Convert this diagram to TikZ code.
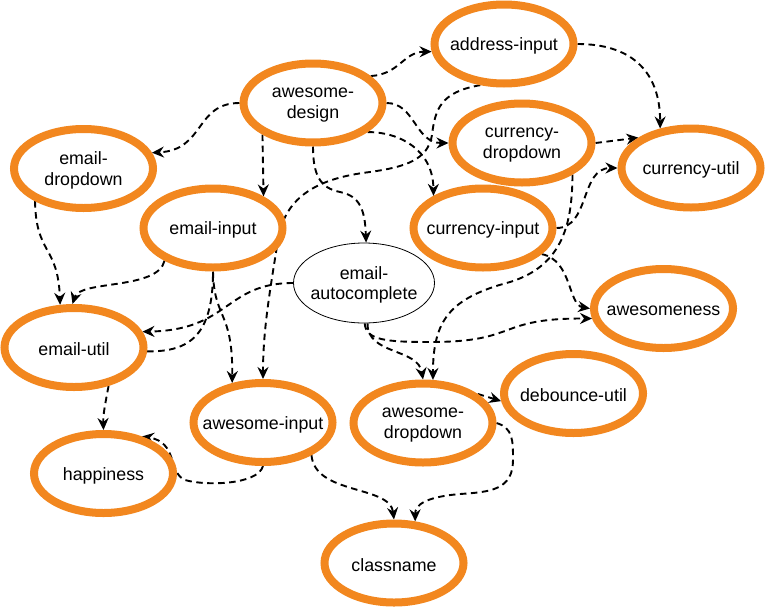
\documentclass[tikz,border=0pt]{standalone}
\usepackage{fontspec}
\setmainfont{Liberation Sans}
\usetikzlibrary{shapes.geometric,arrows.meta,backgrounds}
\definecolor{og}{RGB}{242,135,31}
\begin{document}
\begin{tikzpicture}[x=1pt,y=-1pt,
  onode/.style={ellipse, draw=og, line width=8pt, fill=white, minimum width=139pt, minimum height=79pt, inner sep=0pt},
  pnode/.style={ellipse, draw=black, line width=0.8pt, fill=white, minimum width=141pt, minimum height=80pt, inner sep=0pt},
  lbl/.style={align=center, font=\fontsize{17.8}{20.5}\selectfont, text=black, inner sep=0pt, yshift=-2pt},
  depline/.style={line width=1.9pt, dash pattern=on 6.5pt off 4.5pt},
  dep/.style={depline, -{Stealth[length=12pt,width=11pt,inset=4pt]}}]
\useasboundingbox (0,0) rectangle (767,608);

\node[onode, label={[lbl]center:{address-input}}] (ai) at (504,44) {};
\node[onode, label={[lbl]center:{awesome-\\design}}] (ad) at (313,103) {};
\node[onode, label={[lbl]center:{email-\\dropdown}}] (ed) at (83.5,168.5) {};
\node[onode, label={[lbl]center:{email-input}}] (ei) at (213,228) {};
\node[onode, label={[lbl]center:{currency-\\dropdown}}] (cd) at (522,143) {};
\node[onode, label={[lbl]center:{currency-util}}] (cu) at (691,168) {};
\node[onode, label={[lbl]center:{currency-input}}] (ci) at (483,228) {};
\node[pnode, label={[lbl]center:{email-\\autocomplete}}] (ea) at (364,283) {};
\node[onode, label={[lbl]center:{awesomeness}}] (an) at (663.5,308.5) {};
\node[onode, label={[lbl]center:{debounce-util}}] (du) at (573.5,393.5) {};
\node[onode, label={[lbl]center:{awesome-\\dropdown}}] (adr) at (423,423) {};
\node[onode, label={[lbl]center:{email-util}}] (eu) at (74,347.5) {};
\node[onode, label={[lbl]center:{awesome-input}}] (ain) at (263,422.5) {};
\node[onode, label={[lbl]center:{happiness}}] (hp) at (103.5,473.5) {};
\node[onode, label={[lbl]center:{classname}}] (cn) at (394,563) {};

\begin{pgfonlayer}{background}
\draw[dep] (ad.25) .. controls (400,74) and (403,52) .. (ai.186);
\draw[dep] (ad.180) .. controls (195,103) and (205,150) .. (ed.13);
\draw[dep] (ad.212) -- (ei.32);
\draw[dep] (ad.270) .. controls (313,175) and (320,188) .. (340,192) .. controls (360,196) and (365,210) .. (ea.87);
\draw[dep] (ad.0) .. controls (415,103) and (415,143) .. (cd.180);
\draw[dep] (ad.332) .. controls (400,132) and (433,150) .. (ci.147);
\draw[dep] (ai.0) .. controls (630,44) and (660,70) .. (cu.128);
\draw[dep] (cd.0) -- (cu.150);
\draw[dep] (ci.0) .. controls (590,228) and (580,168) .. (cu.180);
\draw[dep] (cd.328) .. controls (572,220) and (565,265) .. (510,282) .. controls (450,298) and (433,320) .. (adr.77);
\draw[dep] (ci.336) .. controls (572,260) and (568,305) .. (an.180);
\draw[dep] (ea.271) .. controls (366,340) and (385,342) .. (430,342) .. controls (520,342) and (495,318) .. (an.188);
\draw[dep] (ea.275) .. controls (367,355) and (418,348) .. (adr.90);
\draw[dep] (adr.28) -- (du.186);
\draw[dep] (adr.0) .. controls (513,428) and (513,440) .. (513,460) .. controls (513,490) and (490,492) .. (460,494) .. controls (425,497) and (415,505) .. (cn.63);
\draw[dep] (ain.326) .. controls (315,495) and (390,485) .. (cn.90);
\draw[dep] (ain.270) .. controls (258,485) and (205,486) .. (185,480) .. controls (168,473) and (178,442) .. (hp.44);
\draw[dep] (eu.312) .. controls (105,405) and (103,415) .. (hp.90);
\draw[dep] (ed.214) .. controls (36,255) and (58,245) .. (eu.108);
\draw[dep] (ei.214) .. controls (158,290) and (80,280) .. (eu.92);
\draw[dep] (ei.270) .. controls (214,320) and (233,310) .. (ain.128);
\draw[dep] (ea.180) .. controls (225,283) and (230,330) .. (eu.13);
\draw[depline] (eu.357) .. controls (190,352) and (213,335) .. (ei.270);
\draw[dep] (ai.240) .. controls (440,92) and (435,110) .. (432,135) .. controls (428,160) and (405,167) .. (370,172) .. controls (320,178) and (285,195) .. (278,240) .. controls (270,290) and (263,330) .. (ain.90);
\end{pgfonlayer}
\end{tikzpicture}
\end{document}
